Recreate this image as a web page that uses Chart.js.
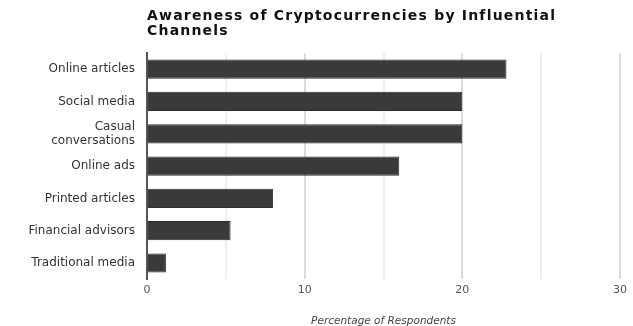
<!DOCTYPE html>
<html>
<head>
<meta charset="utf-8">
<script src="https://cdn.jsdelivr.net/npm/chart.js@4"></script>
<style>
  html, body { margin: 0; padding: 0; background: #fff; }
  #wrap { width: 633px; height: 326px; }
</style>
</head>
<body>
<div id="wrap"><canvas id="awarenessChart" width="633" height="326"></canvas></div>
<script>
const titleLines = ['Awareness of Cryptocurrencies by Influential', 'Channels'];
const channels = ['Online articles', 'Social media', ['Casual', 'conversations'], 'Online ads', 'Printed articles', 'Financial advisors', 'Traditional media'];
const percentages = [22.8, 20, 20, 16, 8, 5.3, 1.2];
const axisTitle = 'Percentage of Respondents';
const xMin = 0;
const xMax = 30;
const xStep = 5;

// titel ritas vid plotytans vänsterkant
const leftTitle = {
  id: 'leftTitle',
  afterDraw(chart) {
    const ctx = chart.ctx;
    ctx.save();
    ctx.font = 'bold 14px "DejaVu Sans"';
    ctx.letterSpacing = '1.2px';
    ctx.fillStyle = '#111';
    ctx.textBaseline = 'alphabetic';
    titleLines.forEach((line, i) => {
      ctx.fillText(line, chart.chartArea.left, 20 + i * 15);
    });
    ctx.restore();
  }
};

const ctx = document.getElementById('awarenessChart').getContext('2d');

new Chart(ctx, {
  type: 'bar',
  data: {
    labels: channels,
    datasets: [{
      data: percentages,
      backgroundColor: '#3a3a3a',
      borderColor: '#2b2b2b',
      borderWidth: 1,
      barPercentage: 0.9,
      categoryPercentage: 0.66,
    }],
  },
  options: {
    indexAxis: 'y',
    responsive: false,
    animation: false,
    layout: { padding: { top: 53, right: 13, bottom: 0, left: 0 } },
    plugins: {
      legend: { display: false },
      tooltip: { enabled: false },
    },
    scales: {
      x: {
        min: xMin,
        max: xMax,
        ticks: {
          stepSize: xStep,
          padding: 4,
          color: '#555',
          font: { family: 'DejaVu Sans', size: 11 },
          maxRotation: 0,
          autoSkip: false,
          callback: value => (value % 10 === 0 ? value : ''),
        },
        grid: {
          drawTicks: false,
          lineWidth: 2,
          color: c => {
            if (c.tick.value === 0) return 'rgba(0,0,0,0)';
            return c.tick.value % 10 === 0 ? '#dcdcdc' : '#eeeeee';
          },
        },
        border: { display: false },
        title: {
          display: true,
          text: axisTitle,
          color: '#444',
          font: { family: 'DejaVu Sans', size: 10.5, style: 'italic', lineHeight: 0.84 },
          padding: { top: 16.8, bottom: 0 },
        },
      },
      y: {
        afterFit: scale => { scale.width = 147; },
        ticks: {
          padding: 4,
          autoSkip: false,
          color: '#333',
          font: { family: 'DejaVu Sans', size: 12 },
        },
        grid: { display: false },
        border: { display: true, color: '#555', width: 2 },
      },
    },
  },
  plugins: [leftTitle],
});
</script>
</body>
</html>
